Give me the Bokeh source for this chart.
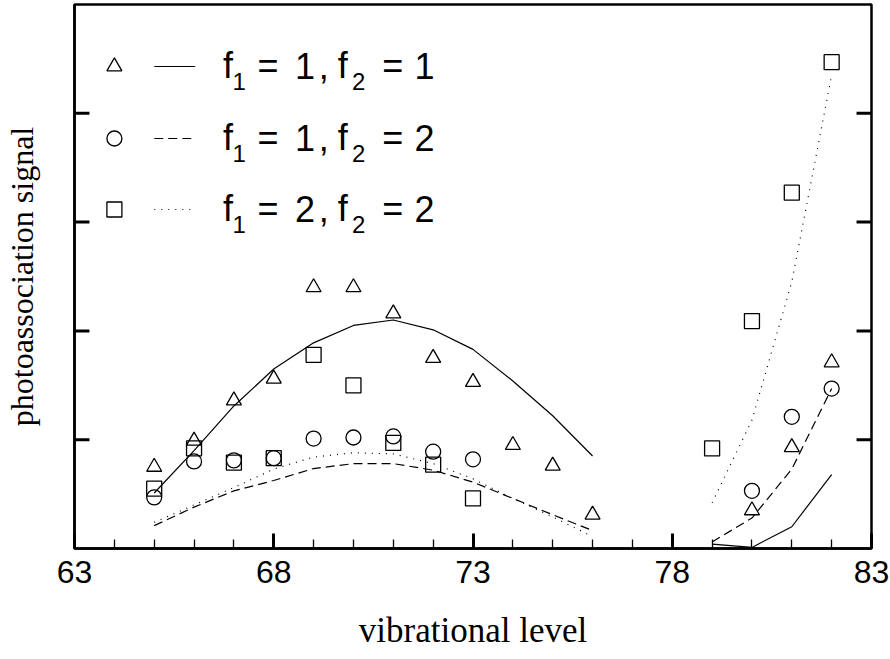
from bokeh.plotting import figure
from bokeh.models import Range1d, FixedTicker, ColumnDataSource
from bokeh.core.properties import value
from bokeh.embed import file_html
from bokeh.resources import INLINE

# Observed photoassociation signal (arbitrary units) per vibrational level
tri_x = [65, 66, 67, 68, 69, 70, 71, 72, 73, 74, 75, 76, 80, 81, 82]
tri_y = [0.75, 0.99, 1.36, 1.56, 2.40, 2.40, 2.16, 1.75, 1.53, 0.95, 0.76, 0.31, 0.35, 0.93, 1.71]

circ_x = [65, 66, 67, 68, 69, 70, 71, 72, 73, 80, 81, 82]
circ_y = [0.47, 0.80, 0.81, 0.83, 1.01, 1.02, 1.03, 0.89, 0.82, 0.53, 1.21, 1.47]

sq_x = [65, 66, 67, 68, 69, 70, 71, 72, 73, 79, 80, 81, 82]
sq_y = [0.55, 0.92, 0.79, 0.83, 1.78, 1.50, 0.97, 0.77, 0.46, 0.92, 2.09, 3.27, 4.47]

# Calculated signal, two separate level ranges
calc_lo_x = [65, 66, 67, 68, 69, 70, 71, 72, 73, 74, 75, 76]
calc_hi_x = [79, 80, 81, 82]
calc11_lo = [0.51, 0.90, 1.31, 1.65, 1.89, 2.05, 2.10, 2.01, 1.83, 1.54, 1.22, 0.85]
calc11_hi = [0.04, 0.01, 0.20, 0.68]
calc12_lo = [0.21, 0.38, 0.53, 0.625, 0.735, 0.78, 0.78, 0.72, 0.61, 0.46, 0.31, 0.165]
calc12_hi = [0.06, 0.28, 0.73, 1.47]
calc22_lo = [0.24, 0.40, 0.56, 0.73, 0.84, 0.88, 0.87, 0.78, 0.64, 0.46, 0.29, 0.11]
calc22_hi = [0.42, 1.18, 2.45, 4.35]

x_ticks = [63, 68, 73, 78, 83]
x_minor = list(range(63, 84))
y_ticks = [1, 2, 3, 4]

# legend rows: (f1, f2)
f1_vals = [1, 1, 2]
f2_vals = [1, 2, 2]

W, H = 890, 659
BL, BR, BT, BB = 72, 19, 4, 111
FW, FH = W - BL - BR, H - BT - BB
X0, X1, Y0, Y1 = 63, 83, 0, 5
DX = (X1 - X0) / FW   # data units per screen pixel
DY = (Y1 - Y0) / FH

p = figure(width=W, height=H, x_range=Range1d(X0, X1), y_range=Range1d(Y0, Y1),
           output_backend="svg", toolbar_location=None,
           min_border_left=BL, min_border_right=BR, min_border_top=BT, min_border_bottom=BB,
           x_axis_label="vibrational level", y_axis_label="photoassociation signal")
p.grid.visible = False
p.background_fill_color = "white"
p.border_fill_color = "white"
p.outline_line_color = "black"
p.outline_line_width = 2.5
p.outline_line_alpha = 1.0

xa = p.xaxis[0]
xa.ticker = FixedTicker(ticks=x_ticks, minor_ticks=x_minor)
xa.axis_line_width = 2.5
xa.major_tick_in = 15
xa.major_tick_out = 0
xa.major_tick_line_width = 3
xa.minor_tick_in = 9
xa.minor_tick_out = 0
xa.minor_tick_line_width = 1.3
xa.major_label_text_font = "Liberation Sans"
xa.major_label_text_font_size = "32px"
xa.major_label_text_color = "black"
xa.major_label_standoff = 12
xa.axis_label_text_font = "Liberation Serif"
xa.axis_label_text_font_size = "35px"
xa.axis_label_text_font_style = "normal"
xa.axis_label_text_color = "black"
xa.axis_label_standoff = 25

# left axis carries only the title; its tick marks are drawn below
ya = p.yaxis[0]
ya.ticker = FixedTicker(ticks=[], minor_ticks=[])
ya.axis_line_width = 2.5
ya.axis_label_text_font = "Liberation Serif"
ya.axis_label_text_font_size = "32px"
ya.axis_label_text_font_style = "normal"
ya.axis_label_text_color = "black"
ya.axis_label_standoff = 35

# inward tick marks on both vertical sides
tick_len = 15 * DX
p.segment(x0=[X0] * len(y_ticks), y0=y_ticks, x1=[X0 + tick_len] * len(y_ticks), y1=y_ticks,
          line_color="black", line_width=3)
p.segment(x0=[X1] * len(y_ticks), y0=y_ticks, x1=[X1 - tick_len] * len(y_ticks), y1=y_ticks,
          line_color="black", line_width=3)

# calculated curves
line_kw = dict(line_color="black", line_width=1.2)
p.line(calc_lo_x, calc11_lo, **line_kw)
p.line(calc_hi_x, calc11_hi, **line_kw)
p.line(calc_lo_x, calc12_lo, line_dash="9 5", **line_kw)
p.line(calc_hi_x, calc12_hi, line_dash="9 5", **line_kw)
p.line(calc_lo_x, calc22_lo, line_dash="1 6", **line_kw)
p.line(calc_hi_x, calc22_hi, line_dash="1 6", **line_kw)

# measured points
mk = dict(size=15, fill_color=None, line_color="black", line_width=1.3)
p.scatter(tri_x, tri_y, marker="triangle", **mk)
p.scatter(circ_x, circ_y, marker="circle", **mk)
p.scatter(sq_x, sq_y, marker="square", **mk)

# legend, drawn in the upper-left corner of the frame
row_px = [62, 134, 205]
markers = ["triangle", "circle", "square"]
dashes = ["solid", "9 5", "1 6"]
big = dict(x=[], y=[], t=[])
small = dict(x=[], y=[], t=[])
for i, (f1, f2) in enumerate(zip(f1_vals, f2_vals)):
    yy = Y1 - row_px[i] * DY
    p.scatter([X0 + 40 * DX], [yy], marker=markers[i], **mk)
    p.line([X0 + 80 * DX, X0 + 121 * DX], [yy, yy], line_dash=dashes[i], **line_kw)
    base = yy + 1 * DY
    sub = base - 16 * DY
    for txt, cx in [("f", 154), ("=", 194), (str(f1), 231), (",", 250), ("f", 269),
                    ("=", 319), (str(f2), 351)]:
        big["x"].append(X0 + cx * DX)
        big["y"].append(base)
        big["t"].append(txt)
    for txt, cx in [("1", 165), ("2", 285)]:
        small["x"].append(X0 + cx * DX)
        small["y"].append(sub)
        small["t"].append(txt)

p.text(x="x", y="y", text="t", source=ColumnDataSource(big),
       text_font=value("Liberation Sans"), text_font_size="36px", text_color="black",
       text_align="center", text_baseline="alphabetic")
p.text(x="x", y="y", text="t", source=ColumnDataSource(small),
       text_font=value("Liberation Sans"), text_font_size="24px", text_color="black",
       text_align="center", text_baseline="alphabetic")

open("out.html", "w").write(file_html(p, INLINE))
